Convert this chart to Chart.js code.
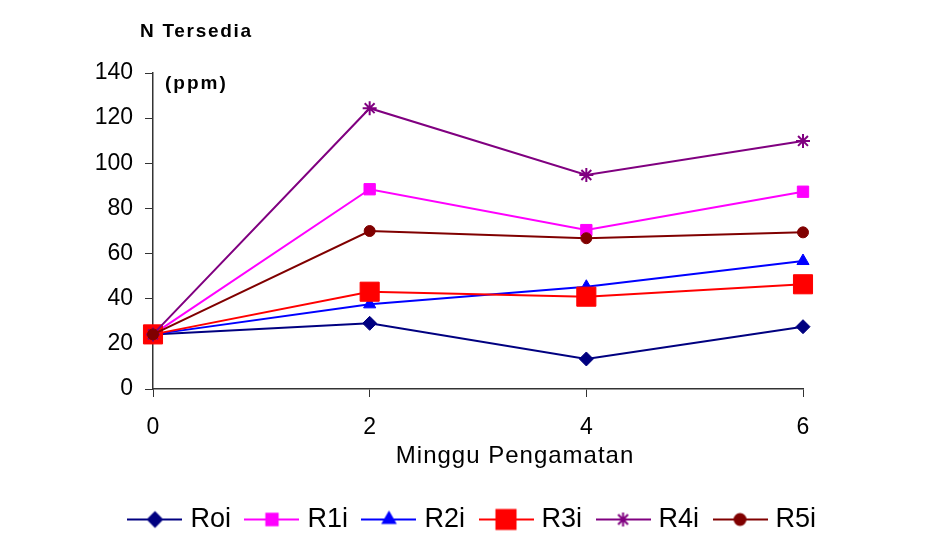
<!DOCTYPE html>
<html>
<head>
<meta charset="utf-8">
<script src="https://cdn.jsdelivr.net/npm/chart.js@4"></script>
<style>
  html, body { margin: 0; padding: 0; background: #fff; }
  #wrap { width: 949px; height: 533px; }
</style>
</head>
<body>
<div id="wrap"><canvas id="charts" width="949" height="533"></canvas></div>
<script>
var weeks = [0, 2, 4, 6];
var yTicks = [0, 20, 40, 60, 80, 100, 120, 140];

var roi = [24.2, 29.1, 13.3, 27.6];
var r1i = [24.2, 88.5, 70.4, 87.4];
var r2i = [24.2, 37.5, 45.3, 56.7];
var r3i = [24.2, 43.1, 40.9, 46.4];
var r4i = [24.2, 124.4, 94.8, 109.9];
var r5i = [24.2, 70.0, 66.8, 69.4];

var series = [
    {label: 'Roi', data: roi, color: '#000080', style: 'rectRot', radius: 7},
    {label: 'R1i', data: r1i, color: '#FF00FF', style: 'rect', radius: 8},
    {label: 'R2i', data: r2i, color: '#0000FF', style: 'triangle', radius: 7},
    {label: 'R3i', data: r3i, color: '#FF0000', style: 'rect', radius: 13.5},
    {label: 'R4i', data: r4i, color: '#800080', style: 'star', radius: 7},
    {label: 'R5i', data: r5i, color: '#800000', style: 'circle', radius: 5.5}
];

var fontName = "'Liberation Sans', Arial, sans-serif";

function legendIcon(s){
    var c = document.createElement('canvas');
    c.width = 55;
    c.height = 30;
    var g = c.getContext('2d');
    g.strokeStyle = s.color;
    g.fillStyle = s.color;
    g.lineWidth = 2;
    g.beginPath();
    g.moveTo(0, 15);
    g.lineTo(55, 15);
    g.stroke();
    Chart.helpers.drawPoint(g, {
        pointStyle: s.style,
        radius: s.radius,
        borderWidth: s.style == 'star' ? 2 : 1
    }, 27.5, 15);
    return c;
}

var datasets = series.map(function(s, i){
    return {
        label: s.label,
        data: s.data.map(function(v, j){ return {x: weeks[j], y: v}; }),
        borderColor: s.color,
        backgroundColor: s.color,
        borderWidth: 2,
        pointStyle: s.style,
        pointRadius: s.radius,
        pointHoverRadius: s.radius,
        pointBorderWidth: s.style == 'star' ? 2 : 1,
        tension: 0,
        clip: false,
        order: series.length - i
    };
});

// texts that Excel placed freely: unit label, y title, x title (off-centre)
var textPlugin = {
    id: 'axisTexts',
    afterDraw: function(chart){
        var ctx = chart.ctx;
        var a = chart.chartArea;
        ctx.save();
        ctx.fillStyle = '#000';
        ctx.textBaseline = 'middle';
        ctx.textAlign = 'left';
        ctx.font = 'bold 19px ' + fontName;
        ctx.letterSpacing = '1.7px';
        ctx.fillText('N Tersedia', a.left - 13, 32);
        ctx.letterSpacing = '2px';
        ctx.fillText('(ppm)', a.left + 12, a.top + 11);
        ctx.font = '24px ' + fontName;
        ctx.letterSpacing = '1px';
        ctx.textAlign = 'center';
        ctx.fillText('Minggu Pengamatan', a.left + (a.right - a.left) * 0.557, a.bottom + 67);
        ctx.restore();
    }
};

var ctx = document.getElementById('charts');
if(ctx != null){
    ctx = ctx.getContext('2d');
    var chart = new Chart(ctx, {
        type: 'line',
        data: {datasets: datasets},
        plugins: [textPlugin],
        options: {
            responsive: false,
            animation: false,
            layout: {
                padding: {top: 73, right: 0, left: 0, bottom: -10}
            },
            plugins: {
                tooltip: {enabled: false},
                legend: {
                    position: 'bottom',
                    labels: {
                        color: '#000',
                        font: {family: fontName, size: 27, lineHeight: 1},
                        usePointStyle: true,
                        pointStyleWidth: 44,
                        padding: 19,
                        generateLabels: function(chart){
                            return series.map(function(s, i){
                                return {
                                    text: s.label,
                                    pointStyle: legendIcon(s),
                                    fillStyle: s.color,
                                    strokeStyle: s.color,
                                    lineWidth: 0,
                                    datasetIndex: i,
                                    hidden: false,
                                    fontColor: '#000'
                                };
                            });
                        }
                    }
                }
            },
            scales: {
                x: {
                    type: 'linear',
                    min: 0,
                    max: 6,
                    afterFit: function(scale){ scale.height = 98; },
                    ticks: {
                        stepSize: 2,
                        color: '#000',
                        font: {family: fontName, size: 23},
                        padding: 17
                    },
                    grid: {
                        drawOnChartArea: false,
                        drawTicks: true,
                        tickLength: 8,
                        tickColor: '#333'
                    },
                    border: {color: '#333', width: 1.5}
                },
                y: {
                    min: 0,
                    max: 140,
                    afterFit: function(scale){ scale.width = 153; },
                    afterBuildTicks: function(scale){
                        scale.ticks = yTicks.map(function(v){ return {value: v}; });
                    },
                    ticks: {
                        color: '#000',
                        font: {family: fontName, size: 23},
                        padding: 12
                    },
                    grid: {
                        drawOnChartArea: false,
                        drawTicks: true,
                        tickLength: 8,
                        tickColor: '#333'
                    },
                    border: {color: '#333', width: 1.5}
                },
                spacer: {
                    type: 'linear',
                    position: 'right',
                    min: 0,
                    max: 1,
                    afterFit: function(scale){ scale.width = 146; },
                    ticks: {display: false},
                    grid: {display: false},
                    border: {display: false}
                }
            }
        }
    });
}
</script>
</body>
</html>
